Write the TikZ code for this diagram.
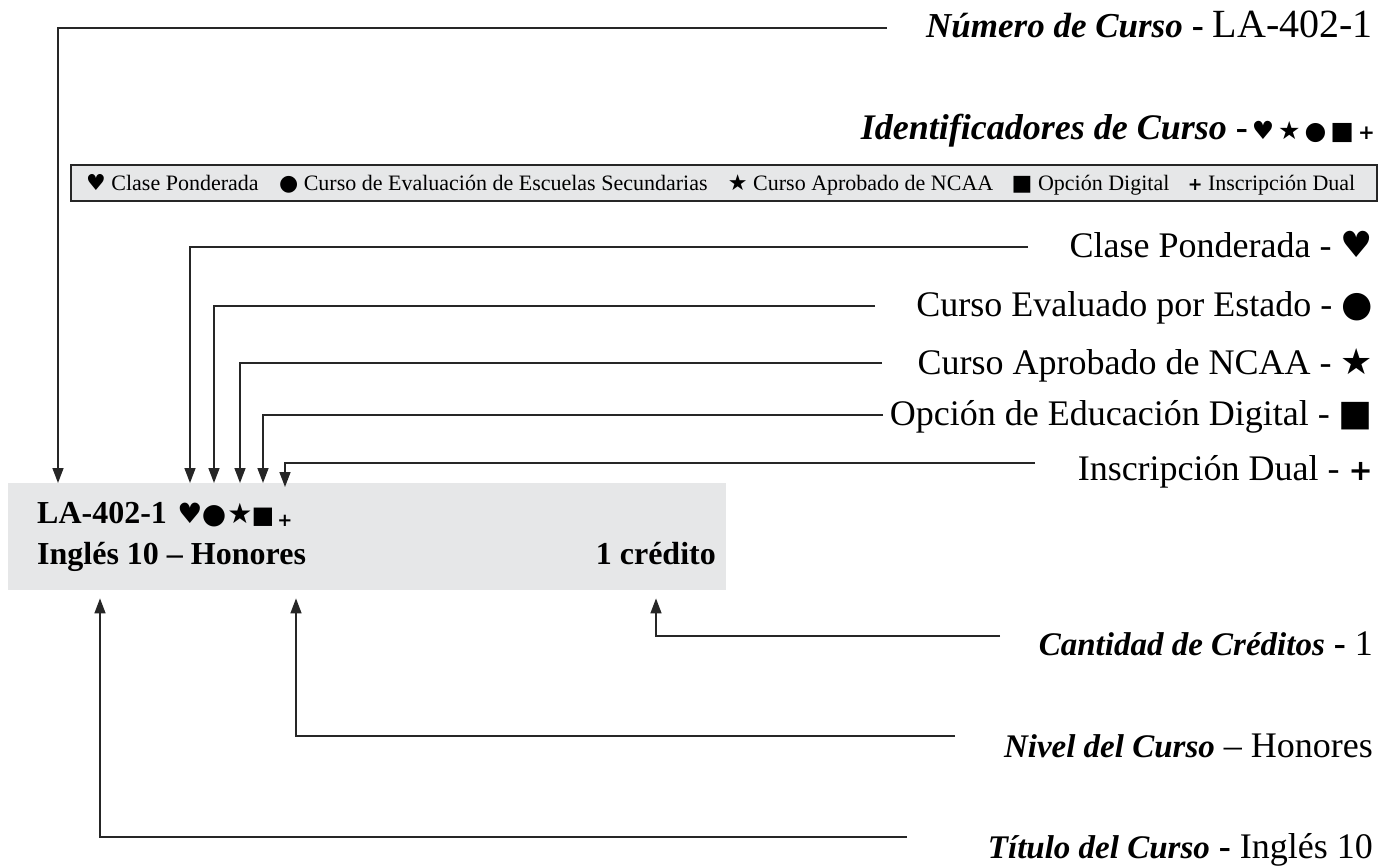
\documentclass[tikz,border=0pt]{standalone}
\usepackage{fontspec}
\setmainfont{Liberation Serif}
\newfontfamily\symf{DejaVu Sans}
\usetikzlibrary{arrows.meta}
\definecolor{boxgray}{HTML}{E6E7E8}
\definecolor{linec}{HTML}{262626}
\newcommand\symHeart{{\symf ♥}}
\newcommand\symDot{{\symf ●}}
\newcommand\symStar{{\symf ★}}
\newcommand\symSq{{\symf ■}}
\newcommand\symPlus{{\symf\bfseries\scalebox{0.8}{+}}}
\begin{document}
\begin{tikzpicture}[x=1pt,y=-1pt,
  conn/.style={draw=linec,line width=1.5pt,-{Triangle[length=15pt,width=11pt]}},
  lab/.style={anchor=base east,inner sep=0pt,font=\fontsize{36}{40}\selectfont},
  key/.style={anchor=base west,inner sep=0pt,font=\fontsize{22}{24}\selectfont},
  cardtxt/.style={inner sep=0pt,font=\fontsize{32}{34}\selectfont\bfseries},
  cardsym/.style={anchor=base,inner sep=0pt,font=\fontsize{28}{30}\selectfont\symf}]
\useasboundingbox (0,0) rectangle (1392,865);

% course card
\node[fill=boxgray,inner sep=0pt,minimum width=718pt,minimum height=107pt,anchor=north west] (card) at (8,483) {};
\node[cardtxt,anchor=base west] (code) at (37,523) {LA-402-1};
\node[cardsym] (sH) at (190,523) {♥};
\node[cardsym] (sD) at (214,523) {●};
\node[cardsym] (sS) at (240,523) {★};
\node[cardsym,font=\fontsize{24}{26}\selectfont\symf] (sQ) at (263,523) {■};
\node[cardsym,font=\fontsize{18}{20}\selectfont\symf\bfseries] (sP) at (285,526) {+};
\node[cardtxt,anchor=base west] (ttl) at (37,564) {Inglés 10 – Honores};
\node[cardtxt,anchor=base east] (cred) at (716,564) {1 crédito};

% header
\node[lab] (lNum) at (1373,37) {{\fontsize{35}{40}\selectfont\bfseries\itshape Número de Curso} {\bfseries -} {\fontsize{40}{44}\selectfont LA-402-1}};
\node[lab] (lId) at (1375,139) {{\bfseries\itshape Identificadores de Curso} {\bfseries -}\hspace{4pt}{\fontsize{25}{28}\selectfont\symf ♥\hspace{4pt}★\hspace{4pt}●\hspace{4pt}■\hspace{4pt}{\bfseries\scalebox{0.8}{+}}}};

% legend bar
\node[fill=boxgray,draw=linec,line width=1.5pt,inner sep=0pt,minimum width=1306pt,minimum height=36pt,anchor=north west] (legend) at (70,164) {};
\node[key] (k1) at (86,190) {\symHeart\ Clase Ponderada};
\node[key] (k2) at ([xshift=20pt]k1.base east) {\symDot\ Curso de Evaluación de Escuelas Secundarias};
\node[key] (k3) at ([xshift=20pt]k2.base east) {\symStar\ Curso Aprobado de NCAA};
\node[key] (k4) at ([xshift=18pt]k3.base east) {\symSq\ Opción Digital};
\node[key] (k5) at ([xshift=18pt]k4.base east) {\symPlus\ Inscripción Dual};

% symbol rows
\node[lab] (lH) at (1373,257) {Clase Ponderada - \symHeart};
\node[lab] (lD) at (1373,316) {Curso Evaluado por Estado - \symDot};
\node[lab] (lS) at (1373,374) {Curso Aprobado de NCAA - \symStar};
\node[lab] (lQ) at (1373,425) {Opción de Educación Digital - \symSq};
\node[lab] (lP) at (1373,480) {Inscripción Dual - \symPlus};

% bottom labels
\node[lab] (lC) at (1373,655) {{\fontsize{33}{38}\selectfont\bfseries\itshape Cantidad de Créditos} {\bfseries -} 1};
\node[lab] (lN) at (1373,757) {{\fontsize{33}{38}\selectfont\bfseries\itshape Nivel del Curso} – Honores};
\node[lab] (lT) at (1373,858) {{\fontsize{33}{38}\selectfont\bfseries\itshape Título del Curso} {\bfseries -} Inglés 10};

% line ends
\coordinate (eNum) at (887,28);
\coordinate (eH) at (1028,247);
\coordinate (eD) at (875,306);
\coordinate (eS) at (882,363);
\coordinate (eQ) at (883,415);
\coordinate (eP) at (1035,463);
\coordinate (eC) at (1000,636);
\coordinate (eN) at (955,736);
\coordinate (eT) at (907,837);

% connectors
\draw[conn] (eNum) -| ([xshift=50pt]card.north west);
\draw[conn] (eH) -| (sH |- card.north);
\draw[conn] (eD) -| (sD |- card.north);
\draw[conn] (eS) -| (sS |- card.north);
\draw[conn] (eQ) -| (sQ |- card.north);
\draw[conn] (eP) -| ([yshift=-4pt]sP |- card.north);
\draw[conn] (eC) -| ([xshift=648pt,yshift=-8pt]card.south west);
\draw[conn] (eN) -| ([xshift=288pt,yshift=-8pt]card.south west);
\draw[conn] (eT) -| ([xshift=92pt,yshift=-8pt]card.south west);
\end{tikzpicture}
\end{document}
